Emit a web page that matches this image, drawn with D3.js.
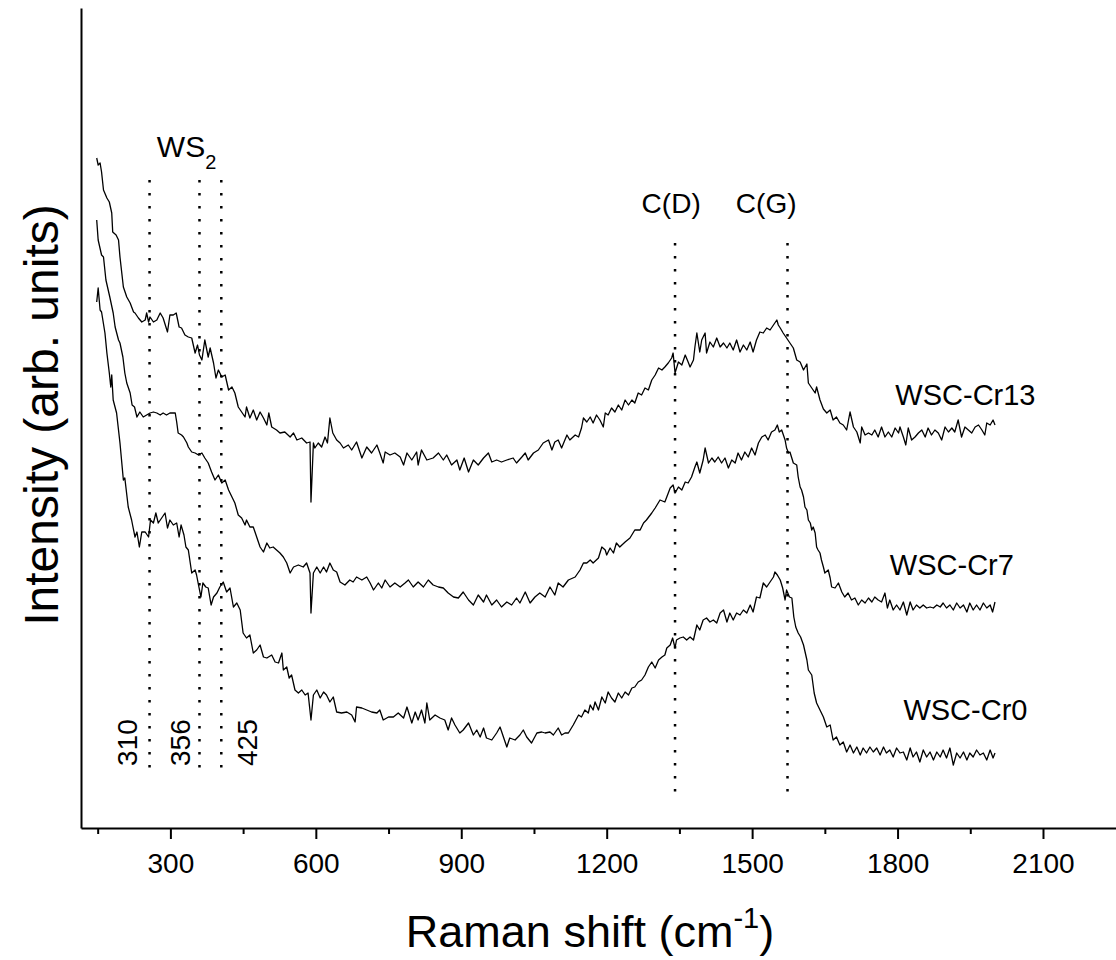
<!DOCTYPE html>
<html>
<head>
<meta charset="utf-8">
<script src="https://cdnjs.cloudflare.com/ajax/libs/d3/7.8.5/d3.min.js"></script>
<style>
body { margin: 0; background: #fff; }
text { font-family: "Liberation Sans", Arial, sans-serif; fill: #000; }
</style>
</head>
<body>
<div id="chart"></div>
<script>

// spectra: [raman shift (cm-1), intensity (arb.)]
var cr13 = [[148,670],[151,663],[155,665],[158,656],[162,638],[169,630],[174,626],[179,615],[181,596],[188,593],[193,588],[196,571],[203,541],[210,531],[217,525],[224,516],[227,515],[234,510],[241,506],[248,508],[251,515],[255,506],[258,511],[265,506],[272,508],[279,515],[285,510],[294,496],[299,513],[306,513],[312,515],[318,501],[323,500],[330,493],[337,491],[344,490],[351,475],[356,483],[360,473],[365,468],[371,488],[378,471],[382,480],[389,465],[394,450],[399,458],[406,451],[413,453],[420,438],[427,441],[433,435],[440,421],[447,416],[454,411],[457,421],[464,410],[471,418],[478,408],[485,416],[492,410],[499,403],[503,415],[509,401],[519,398],[526,395],[536,396],[547,391],[554,395],[561,388],[571,390],[581,385],[588,386],[590,326],[595,385],[598,380],[605,385],[612,381],[619,391],[624,385],[629,410],[635,395],[643,388],[650,385],[657,380],[667,383],[674,378],[684,386],[695,370],[705,381],[715,375],[726,383],[732,375],[739,365],[743,376],[753,373],[763,375],[774,371],[781,363],[788,375],[798,368],[808,376],[811,363],[818,378],[829,368],[842,370],[853,375],[863,368],[870,373],[880,363],[891,368],[897,358],[906,370],[915,356],[925,368],[935,363],[946,370],[956,375],[963,366],[973,368],[983,366],[994,368],[1007,370],[1014,365],[1025,371],[1032,375],[1038,368],[1049,375],[1059,378],[1069,385],[1080,388],[1087,378],[1093,386],[1100,388],[1107,380],[1118,393],[1124,388],[1135,393],[1142,391],[1148,400],[1152,410],[1159,406],[1166,411],[1172,405],[1179,413],[1186,408],[1193,401],[1197,415],[1203,413],[1210,420],[1217,416],[1224,423],[1231,418],[1238,428],[1245,423],[1252,428],[1258,425],[1265,435],[1272,433],[1279,440],[1286,438],[1293,448],[1300,453],[1307,460],[1314,458],[1320,461],[1327,465],[1334,470],[1337,475],[1341,455],[1348,466],[1355,463],[1362,473],[1368,466],[1372,461],[1379,468],[1382,481],[1386,495],[1392,476],[1396,488],[1403,495],[1406,475],[1413,486],[1420,481],[1427,490],[1434,481],[1441,485],[1448,480],[1454,485],[1461,478],[1468,488],[1475,476],[1482,483],[1489,478],[1496,486],[1502,476],[1509,488],[1516,496],[1523,495],[1530,500],[1537,498],[1544,503],[1551,508],[1554,503],[1558,500],[1564,495],[1571,490],[1578,485],[1585,480],[1592,468],[1599,466],[1606,458],[1613,464],[1616,445],[1623,440],[1630,435],[1633,441],[1640,428],[1647,419],[1654,415],[1661,418],[1667,408],[1674,411],[1681,405],[1688,403],[1695,398],[1702,416],[1709,401],[1716,396],[1723,385],[1726,401],[1733,393],[1740,395],[1747,393],[1753,398],[1760,391],[1767,401],[1774,391],[1781,396],[1788,391],[1795,400],[1802,395],[1805,401],[1812,391],[1817,383],[1822,400],[1829,388],[1836,391],[1843,395],[1850,398],[1857,391],[1863,400],[1870,393],[1877,398],[1884,395],[1891,388],[1898,401],[1905,396],[1912,400],[1918,396],[1925,408],[1932,391],[1939,401],[1946,398],[1953,395],[1960,401],[1967,403],[1974,398],[1980,393],[1984,405],[1991,403],[1997,408],[2001,403]];

var cr7 = [[148,608],[151,588],[158,573],[162,571],[167,548],[175,531],[182,515],[186,501],[193,488],[196,485],[202,471],[206,455],[210,445],[217,435],[221,423],[226,421],[231,411],[237,416],[244,411],[251,413],[258,415],[265,416],[272,415],[279,413],[285,415],[292,413],[299,415],[310,415],[313,406],[316,395],[323,393],[327,391],[334,385],[337,381],[344,376],[351,375],[358,373],[365,375],[371,370],[378,365],[385,356],[392,348],[399,353],[406,345],[413,348],[420,338],[427,331],[433,325],[440,313],[447,310],[454,303],[457,308],[464,301],[471,301],[478,291],[485,281],[492,276],[499,285],[505,280],[512,281],[519,278],[526,275],[533,271],[540,265],[547,255],[554,261],[564,263],[574,261],[581,265],[588,255],[590,215],[595,255],[602,261],[609,255],[616,261],[622,256],[629,265],[636,258],[643,256],[650,246],[660,243],[670,248],[677,246],[684,251],[695,248],[705,251],[712,245],[719,238],[729,245],[736,240],[743,248],[753,241],[763,245],[774,241],[784,245],[791,248],[801,241],[811,246],[822,241],[832,248],[842,243],[853,241],[863,240],[873,235],[884,231],[894,230],[904,236],[915,228],[925,223],[935,233],[946,226],[952,233],[963,223],[973,228],[983,221],[994,226],[1004,223],[1014,230],[1021,225],[1032,236],[1042,225],[1052,231],[1062,235],[1073,231],[1083,241],[1093,233],[1100,245],[1110,241],[1121,248],[1135,251],[1145,258],[1152,265],[1159,265],[1166,268],[1172,265],[1183,270],[1190,281],[1197,278],[1200,273],[1207,280],[1214,275],[1220,285],[1227,281],[1238,286],[1248,290],[1258,298],[1269,298],[1276,305],[1282,308],[1293,315],[1300,320],[1310,328],[1320,326],[1331,340],[1337,343],[1341,335],[1348,341],[1355,338],[1362,346],[1368,345],[1375,351],[1382,361],[1386,366],[1392,355],[1399,368],[1403,380],[1410,365],[1417,370],[1423,366],[1430,371],[1437,365],[1444,370],[1451,360],[1458,368],[1465,365],[1471,375],[1478,368],[1485,376],[1492,371],[1499,380],[1506,373],[1513,385],[1520,391],[1527,393],[1533,388],[1540,396],[1547,398],[1552,403],[1556,396],[1561,398],[1568,388],[1571,380],[1575,375],[1578,376],[1585,365],[1592,363],[1595,351],[1599,341],[1602,338],[1606,331],[1609,321],[1613,318],[1616,308],[1620,305],[1623,298],[1626,301],[1630,295],[1633,281],[1636,278],[1640,275],[1643,268],[1647,261],[1650,255],[1657,258],[1661,250],[1664,241],[1671,240],[1678,245],[1685,236],[1691,231],[1698,235],[1705,228],[1712,230],[1719,223],[1726,228],[1733,225],[1740,230],[1747,226],[1753,231],[1760,228],[1767,226],[1774,235],[1779,220],[1784,228],[1791,218],[1798,223],[1805,218],[1812,226],[1819,213],[1826,226],[1832,218],[1839,223],[1846,220],[1853,223],[1860,220],[1867,221],[1874,220],[1881,223],[1888,221],[1894,225],[1901,220],[1908,223],[1915,218],[1922,225],[1929,220],[1936,223],[1943,216],[1949,225],[1956,218],[1963,223],[1970,218],[1977,225],[1984,220],[1991,223],[1996,216],[2001,226]];

var cr0 = [[148,526],[151,540],[155,518],[158,516],[165,495],[169,475],[174,455],[177,441],[179,453],[182,428],[189,415],[196,385],[203,348],[206,350],[213,321],[220,308],[222,303],[227,291],[231,296],[236,281],[241,296],[248,296],[255,291],[259,308],[265,305],[270,315],[275,305],[282,310],[289,315],[294,300],[299,308],[306,303],[313,305],[318,291],[322,303],[328,293],[332,281],[337,278],[344,255],[351,258],[354,253],[358,243],[363,231],[367,245],[373,241],[378,240],[384,223],[389,231],[396,235],[402,241],[409,246],[416,236],[423,240],[430,221],[437,225],[444,218],[450,195],[457,190],[464,193],[471,175],[478,178],[485,183],[492,171],[499,170],[509,173],[516,166],[523,165],[530,175],[533,158],[540,161],[545,150],[550,153],[557,138],[564,135],[571,138],[578,133],[584,135],[590,108],[595,133],[602,138],[609,130],[616,136],[622,133],[629,126],[636,131],[643,116],[653,115],[664,116],[674,113],[681,106],[684,121],[695,120],[705,118],[715,116],[726,115],[732,118],[739,108],[750,111],[760,111],[770,115],[781,110],[788,121],[798,105],[805,116],[811,108],[818,118],[825,105],[829,125],[835,108],[846,113],[856,110],[866,108],[873,98],[880,110],[887,103],[897,95],[904,98],[915,105],[925,93],[932,98],[939,91],[946,100],[952,90],[963,88],[973,95],[980,101],[987,91],[994,81],[1000,90],[1011,88],[1021,93],[1028,98],[1035,91],[1045,85],[1056,95],[1066,96],[1073,95],[1083,96],[1090,93],[1100,100],[1107,93],[1114,95],[1121,95],[1131,103],[1142,113],[1148,111],[1155,118],[1162,115],[1166,123],[1172,118],[1176,126],[1183,118],[1190,131],[1197,125],[1203,136],[1210,130],[1217,126],[1224,135],[1231,130],[1238,136],[1245,133],[1252,140],[1258,141],[1265,146],[1272,148],[1279,153],[1286,161],[1293,166],[1300,160],[1307,168],[1314,171],[1320,173],[1324,180],[1331,183],[1336,190],[1341,180],[1344,188],[1351,190],[1358,191],[1365,188],[1372,191],[1379,188],[1386,203],[1392,198],[1399,208],[1406,210],[1413,206],[1420,208],[1427,205],[1434,215],[1441,218],[1448,206],[1454,215],[1461,208],[1468,215],[1475,213],[1482,218],[1489,215],[1496,223],[1502,216],[1509,231],[1516,230],[1523,245],[1530,241],[1537,246],[1544,251],[1547,256],[1552,253],[1558,248],[1563,240],[1568,228],[1571,238],[1577,231],[1582,230],[1586,211],[1590,201],[1595,195],[1600,191],[1606,183],[1613,168],[1616,158],[1623,153],[1628,135],[1633,125],[1640,118],[1647,111],[1654,101],[1661,103],[1667,88],[1674,91],[1681,83],[1688,86],[1695,76],[1702,83],[1709,75],[1716,81],[1723,73],[1729,80],[1736,75],[1743,81],[1750,76],[1757,80],[1764,73],[1771,81],[1777,75],[1784,78],[1791,71],[1798,80],[1805,75],[1812,76],[1819,68],[1826,80],[1832,71],[1839,76],[1846,66],[1853,78],[1860,71],[1867,76],[1874,68],[1881,76],[1888,71],[1894,78],[1901,70],[1908,80],[1915,63],[1922,75],[1929,70],[1936,76],[1943,68],[1949,75],[1956,71],[1963,78],[1970,73],[1977,75],[1984,68],[1991,78],[1997,70],[2001,75]];

var seriesNames = ["WSC-Cr13", "WSC-Cr7", "WSC-Cr0"];
// where each sample name sits: [shift, intensity]
var seriesLabelAt = [[1940, 423], [1912, 253], [1940, 108]];

// dotted peak markers, as drawn in the figure
var ws2Lines = [257, 360, 405];
var ws2Labels = ["310", "356", "425"];
var ws2LabelAt = [231, 341, 479];
var carbonLines = [1341, 1573];
var carbonLabels = ["C(D)", "C(G)"];
var carbonLabelAt = [1333, 1529];

var xTicks = [300, 600, 900, 1200, 1500, 1800, 2100];
var xMinorTicks = [150, 450, 750, 1050, 1350, 1650, 1950];

drawSpectra();

function drawSpectra(){

  var margin = {top: 8, right: 0, bottom: 132, left: 81},
      svgWidth = 1116,
      svgHeight = 960,
      width = svgWidth - margin.left - margin.right,
      height = svgHeight - margin.top - margin.bottom;

  var svg = d3.select("#chart")
     .append("svg")
     .attr("width", svgWidth)
     .attr("height", svgHeight);

  var g = svg.append("g")
     .attr("transform", "translate(" + margin.left + "," + margin.top + ")");

  var x = d3.scaleLinear()
     .domain([115.6, 2250.6])
     .range([0, width]);

  var y = d3.scaleLinear()
     .domain([0, 820])
     .range([height, 0]);

  // minor ticks first, the major axis draws the line on top
  g.append("g")
     .attr("transform", "translate(0," + height + ")")
     .call(d3.axisBottom(x).tickValues(xMinorTicks).tickSize(6).tickFormat(""))
     .call(function(a){ a.select(".domain").remove(); })
     .selectAll("line").attr("stroke-width", 2);

  var xAxis = g.append("g")
     .attr("transform", "translate(0," + height + ")")
     .call(d3.axisBottom(x).tickValues(xTicks).tickSize(11).tickSizeOuter(0)
        .tickPadding(14).tickFormat(d3.format("")));
  xAxis.select(".domain").attr("stroke-width", 2);
  xAxis.selectAll("line").attr("stroke-width", 2);
  xAxis.selectAll("text")
     .style("font-family", "'Liberation Sans', Arial, sans-serif")
     .style("font-size", "28px");

  var yAxis = g.append("g")
     .call(d3.axisLeft(y).ticks(0).tickSizeOuter(0));
  yAxis.select(".domain").attr("stroke-width", 2);

  // axis titles
  svg.append("text")
     .attr("transform", "translate(58," + 415 + ") rotate(-90)")
     .attr("text-anchor", "middle")
     .style("font-size", "48px")
     .text("Intensity (arb. units)");

  var xt = svg.append("text")
     .attr("x", 590)
     .attr("y", 947)
     .attr("text-anchor", "middle")
     .style("font-size", "45px");
  xt.append("tspan").text("Raman shift (cm");
  xt.append("tspan").attr("dy", -19).style("font-size", "29px").text("-1");
  xt.append("tspan").attr("dy", 19).text(")");

  // dotted reference lines
  g.selectAll(".ws2line")
     .data(ws2Lines)
     .enter().append("line")
     .attr("x1", function(d){ return x(d); })
     .attr("x2", function(d){ return x(d); })
     .attr("y1", y(648))
     .attr("y2", y(60))
     .attr("stroke", "#000")
     .attr("stroke-width", 2.5)
     .attr("stroke-dasharray", "2.5,10.5");

  g.selectAll(".cline")
     .data(carbonLines)
     .enter().append("line")
     .attr("x1", function(d){ return x(d); })
     .attr("x2", function(d){ return x(d); })
     .attr("y1", y(585))
     .attr("y2", y(33))
     .attr("stroke", "#000")
     .attr("stroke-width", 2.5)
     .attr("stroke-dasharray", "2.5,10.5");

  // spectra
  var line = d3.line()
     .x(function(d){ return x(d[0]); })
     .y(function(d){ return y(d[1]); });

  [cr13, cr7, cr0].forEach(function(s){
    g.append("path")
       .datum(s)
       .attr("fill", "none")
       .attr("stroke", "#000")
       .attr("stroke-width", 1.3)
       .attr("stroke-linejoin", "round")
       .attr("d", line);
  });

  // sample names
  seriesNames.forEach(function(n, i){
    g.append("text")
       .attr("x", x(seriesLabelAt[i][0]))
       .attr("y", y(seriesLabelAt[i][1]))
       .attr("text-anchor", "middle")
       .style("font-size", "29px")
       .text(n);
  });

  // peak labels
  ws2Labels.forEach(function(t, i){
    g.append("text")
       .attr("transform", "translate(" + x(ws2LabelAt[i]) + "," + y(62) + ") rotate(-90)")
       .style("font-size", "28px")
       .text(t);
  });

  carbonLabels.forEach(function(t, i){
    g.append("text")
       .attr("x", x(carbonLabelAt[i]))
       .attr("y", y(615))
       .attr("text-anchor", "middle")
       .style("font-size", "28px")
       .text(t);
  });

  var ws = g.append("text")
     .attr("x", x(272))
     .attr("y", y(671))
     .style("font-size", "30px");
  ws.append("tspan").text("WS");
  ws.append("tspan").attr("dy", 12).style("font-size", "20px").text("2");
}

</script>
</body>
</html>
